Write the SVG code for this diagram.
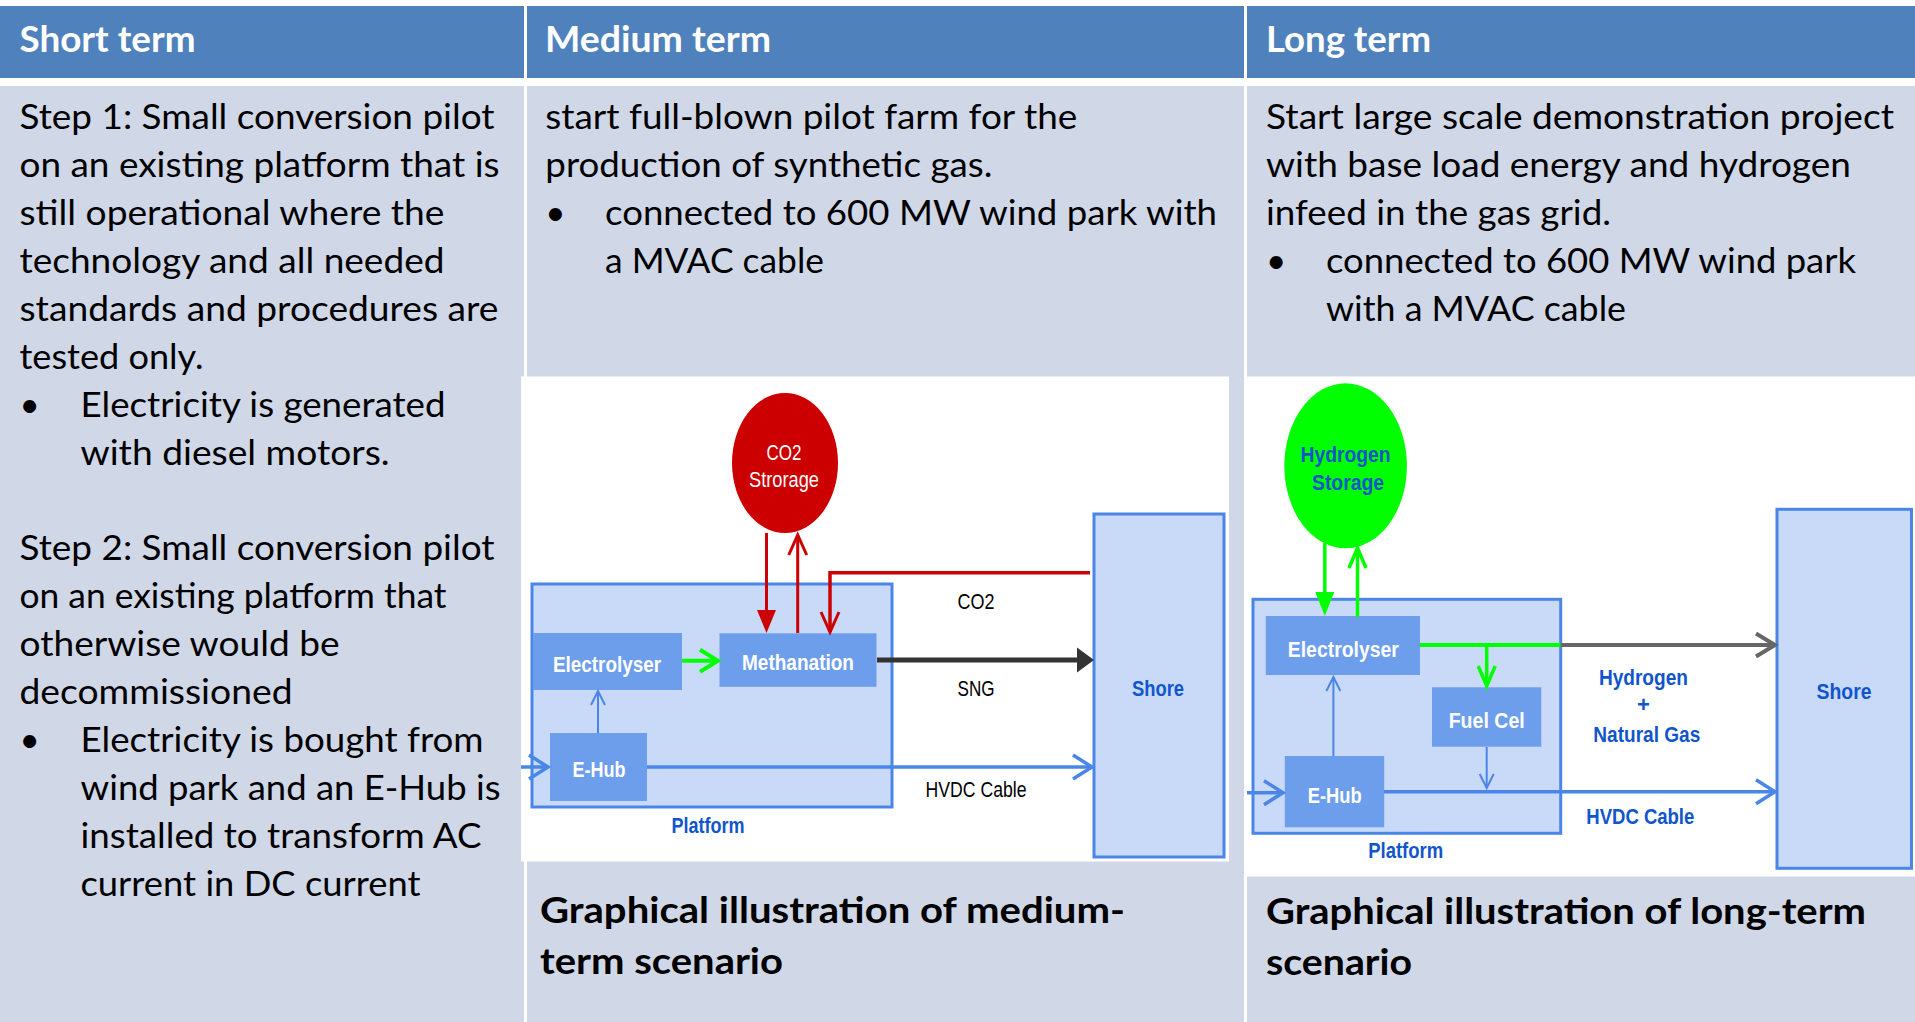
<svg xmlns="http://www.w3.org/2000/svg" width="1915" height="1022" viewBox="0 0 1915 1022">
<style>
.hdr{fill:#4F81BD}
.cell{fill:#D0D8E8}
.ht{font-family:Lato,"Liberation Sans",sans-serif;font-weight:bold;font-size:36px;fill:#FFFFFF}
.bt{font-family:Lato,"Liberation Sans",sans-serif;font-size:35px;fill:#000000}
.cap{font-family:Lato,"Liberation Sans",sans-serif;font-weight:bold;font-size:36px;fill:#000000}
.plat{fill:#C9DAF8;stroke:#4A86E8;stroke-width:3}
.box{fill:#6D9EEB}
.dw{font-family:"Liberation Sans",Arial,sans-serif;font-weight:bold;font-size:22px;fill:#FFFFFF;text-anchor:middle}
.db{font-family:"Liberation Sans",Arial,sans-serif;font-weight:bold;font-size:22px;fill:#1155CC;text-anchor:middle}
.dn{font-family:"Liberation Sans",Arial,sans-serif;font-size:22px;fill:#000000;text-anchor:middle}
.dwn{font-family:"Liberation Sans",Arial,sans-serif;font-size:22px;fill:#FFFFFF;text-anchor:middle}
.c{fill:none}
</style>
<defs>
<marker id="triRed" markerUnits="userSpaceOnUse" orient="auto" refX="0" refY="0" markerWidth="30" markerHeight="30" overflow="visible"><path d="M0,-9.5 L23,0 L0,9.5 Z" fill="#CC0000"/></marker>
<marker id="chevRed" markerUnits="userSpaceOnUse" orient="auto" refX="0" refY="0" markerWidth="30" markerHeight="30" overflow="visible"><path d="M-20,-9 L0,0 L-20,9" fill="none" stroke="#CC0000" stroke-width="3"/></marker>
<marker id="chevGreen" markerUnits="userSpaceOnUse" orient="auto" refX="0" refY="0" markerWidth="30" markerHeight="30" overflow="visible"><path d="M-18,-11 L0,0 L-18,11" fill="none" stroke="#00FF00" stroke-width="4"/></marker>
<marker id="chevGreenS" markerUnits="userSpaceOnUse" orient="auto" refX="0" refY="0" markerWidth="30" markerHeight="30" overflow="visible"><path d="M-20,-8.5 L0,0 L-20,8.5" fill="none" stroke="#00FF00" stroke-width="3.5"/></marker>
<marker id="triGreen" markerUnits="userSpaceOnUse" orient="auto" refX="0" refY="0" markerWidth="30" markerHeight="30" overflow="visible"><path d="M0,-9.5 L24,0 L0,9.5 Z" fill="#00FF00"/></marker>
<marker id="triDark" markerUnits="userSpaceOnUse" orient="auto" refX="0" refY="0" markerWidth="30" markerHeight="30" overflow="visible"><path d="M0,-12.5 L17,0 L0,12.5 Z" fill="#333333"/></marker>
<marker id="chevGray" markerUnits="userSpaceOnUse" orient="auto" refX="0" refY="0" markerWidth="30" markerHeight="30" overflow="visible"><path d="M-19,-11.5 L0,0 L-19,11.5" fill="none" stroke="#666666" stroke-width="4"/></marker>
<marker id="chevBlue" markerUnits="userSpaceOnUse" orient="auto" refX="0" refY="0" markerWidth="30" markerHeight="30" overflow="visible"><path d="M-19,-12 L0,0 L-19,12" fill="none" stroke="#4A86E8" stroke-width="3.5"/></marker>
<marker id="chevBlueS" markerUnits="userSpaceOnUse" orient="auto" refX="0" refY="0" markerWidth="30" markerHeight="30" overflow="visible"><path d="M-14,-7 L0,0 L-14,7" fill="none" stroke="#4A86E8" stroke-width="2"/></marker>
</defs>
<rect x="0" y="0" width="1915" height="1022" fill="#FFFFFF"/>

<g id="table">
<rect class="hdr" x="0" y="6" width="524" height="72"/>
<rect class="hdr" x="527" y="6" width="717" height="72"/>
<rect class="hdr" x="1247" y="6" width="668" height="72"/>
<rect class="cell" x="0" y="86" width="524" height="936"/>
<rect class="cell" x="527" y="86" width="717" height="936"/>
<rect class="cell" x="1247" y="86" width="668" height="936"/>
<text class="ht" x="19.5" y="52" textLength="176" lengthAdjust="spacingAndGlyphs">Short term</text>
<text class="ht" x="545" y="52" textLength="226" lengthAdjust="spacingAndGlyphs">Medium term</text>
<text class="ht" x="1266" y="52" textLength="165" lengthAdjust="spacingAndGlyphs">Long term</text>
</g>

<g id="short-term-text">
<text class="bt" x="19.5" y="129" textLength="475" lengthAdjust="spacingAndGlyphs">Step 1: Small conversion pilot</text>
<text class="bt" x="19.5" y="177" textLength="480" lengthAdjust="spacingAndGlyphs">on an existing platform that is</text>
<text class="bt" x="19.5" y="225" textLength="425" lengthAdjust="spacingAndGlyphs">still operational where the</text>
<text class="bt" x="19.5" y="273" textLength="425" lengthAdjust="spacingAndGlyphs">technology and all needed</text>
<text class="bt" x="19.5" y="321" textLength="479" lengthAdjust="spacingAndGlyphs">standards and procedures are</text>
<text class="bt" x="19.5" y="369" textLength="184" lengthAdjust="spacingAndGlyphs">tested only.</text>
<text class="bt" x="19.5" y="417">•</text>
<text class="bt" x="80.5" y="417" textLength="365" lengthAdjust="spacingAndGlyphs">Electricity is generated</text>
<text class="bt" x="80.5" y="465" textLength="309" lengthAdjust="spacingAndGlyphs">with diesel motors.</text>
<text class="bt" x="19.5" y="560" textLength="475" lengthAdjust="spacingAndGlyphs">Step 2: Small conversion pilot</text>
<text class="bt" x="19.5" y="608" textLength="427" lengthAdjust="spacingAndGlyphs">on an existing platform that</text>
<text class="bt" x="19.5" y="656" textLength="320" lengthAdjust="spacingAndGlyphs">otherwise would be</text>
<text class="bt" x="19.5" y="704" textLength="273" lengthAdjust="spacingAndGlyphs">decommissioned</text>
<text class="bt" x="19.5" y="752">•</text>
<text class="bt" x="80.5" y="752" textLength="403" lengthAdjust="spacingAndGlyphs">Electricity is bought from</text>
<text class="bt" x="80.5" y="800" textLength="420" lengthAdjust="spacingAndGlyphs">wind park and an E-Hub is</text>
<text class="bt" x="80.5" y="848" textLength="401" lengthAdjust="spacingAndGlyphs">installed to transform AC</text>
<text class="bt" x="80.5" y="896" textLength="340" lengthAdjust="spacingAndGlyphs">current in DC current</text>
</g>

<g id="medium-term-text">
<text class="bt" x="545.3" y="129" textLength="532" lengthAdjust="spacingAndGlyphs">start full-blown pilot farm for the</text>
<text class="bt" x="545.3" y="177" textLength="447" lengthAdjust="spacingAndGlyphs">production of synthetic gas.</text>
<text class="bt" x="545.3" y="225">•</text>
<text class="bt" x="605" y="225" textLength="612" lengthAdjust="spacingAndGlyphs">connected to 600 MW wind park with</text>
<text class="bt" x="605" y="273" textLength="219" lengthAdjust="spacingAndGlyphs">a MVAC cable</text>
<text class="cap" x="540" y="923" textLength="585" lengthAdjust="spacingAndGlyphs">Graphical illustration of medium-</text>
<text class="cap" x="540" y="974" textLength="243" lengthAdjust="spacingAndGlyphs">term scenario</text>
</g>

<g id="long-term-text">
<text class="bt" x="1266" y="129" textLength="628" lengthAdjust="spacingAndGlyphs">Start large scale demonstration project</text>
<text class="bt" x="1266" y="177" textLength="585" lengthAdjust="spacingAndGlyphs">with base load energy and hydrogen</text>
<text class="bt" x="1266" y="225" textLength="345" lengthAdjust="spacingAndGlyphs">infeed in the gas grid.</text>
<text class="bt" x="1266" y="273">•</text>
<text class="bt" x="1326" y="273" textLength="530" lengthAdjust="spacingAndGlyphs">connected to 600 MW wind park</text>
<text class="bt" x="1326" y="321" textLength="300" lengthAdjust="spacingAndGlyphs">with a MVAC cable</text>
<text class="cap" x="1266" y="924" textLength="600" lengthAdjust="spacingAndGlyphs">Graphical illustration of long-term</text>
<text class="cap" x="1266" y="975" textLength="146" lengthAdjust="spacingAndGlyphs">scenario</text>
</g>

<!-- Medium-term diagram -->
<rect x="521" y="376.5" width="708" height="485" fill="#FFFFFF"/>
<g id="m-platform">
<rect class="plat" x="532" y="584" width="360" height="223"/>
<text class="db" x="708" y="833" textLength="73" lengthAdjust="spacingAndGlyphs">Platform</text>
</g>
<g id="m-co2storage">
<ellipse cx="785" cy="463" rx="53" ry="70" fill="#CC0000"/>
<text class="dwn" x="784" y="460" textLength="35" lengthAdjust="spacingAndGlyphs">CO2</text>
<text class="dwn" x="784" y="487" textLength="70" lengthAdjust="spacingAndGlyphs">Strorage</text>
</g>
<g id="m-electrolyser">
<rect class="box" x="533" y="633" width="149" height="57"/>
<text class="dw" x="607" y="672" textLength="108" lengthAdjust="spacingAndGlyphs">Electrolyser</text>
</g>
<g id="m-methanation">
<rect class="box" x="719.5" y="633.3" width="157" height="53.5"/>
<text class="dw" x="798" y="670" textLength="112" lengthAdjust="spacingAndGlyphs">Methanation</text>
</g>
<g id="m-ehub">
<rect class="box" x="550" y="733" width="97" height="68"/>
<text class="dw" x="599" y="777" textLength="53" lengthAdjust="spacingAndGlyphs">E-Hub</text>
</g>
<g id="m-shore">
<rect class="plat" x="1094" y="514" width="130" height="343"/>
<text class="db" x="1158" y="696" textLength="52" lengthAdjust="spacingAndGlyphs">Shore</text>
</g>
<g id="m-labels">
<text class="dn" x="976" y="609" textLength="37" lengthAdjust="spacingAndGlyphs">CO2</text>
<text class="dn" x="976" y="696" textLength="37" lengthAdjust="spacingAndGlyphs">SNG</text>
<text class="dn" x="976" y="797" textLength="101" lengthAdjust="spacingAndGlyphs">HVDC Cable</text>
</g>

<!-- Long-term diagram -->
<rect x="1247" y="376.5" width="668" height="500" fill="#FFFFFF"/>
<g id="l-platform">
<rect class="plat" x="1253" y="599.3" width="307.7" height="234"/>
<text class="db" x="1405.7" y="858.3" textLength="75" lengthAdjust="spacingAndGlyphs">Platform</text>
</g>
<g id="l-h2storage">
<ellipse cx="1345.6" cy="465.8" rx="61.3" ry="82.5" fill="#00FF00"/>
<text class="db" x="1345.5" y="461.7" textLength="90" lengthAdjust="spacingAndGlyphs">Hydrogen</text>
<text class="db" x="1348" y="490" textLength="72" lengthAdjust="spacingAndGlyphs">Storage</text>
</g>
<g id="l-electrolyser">
<rect class="box" x="1265.8" y="616" width="154.2" height="59"/>
<text class="dw" x="1343.3" y="656.7" textLength="111" lengthAdjust="spacingAndGlyphs">Electrolyser</text>
</g>
<g id="l-fuelcel">
<rect class="box" x="1432" y="687.3" width="109.3" height="59.4"/>
<text class="dw" x="1486.7" y="728.3" textLength="76" lengthAdjust="spacingAndGlyphs">Fuel Cel</text>
</g>
<g id="l-ehub">
<rect class="box" x="1284.8" y="756" width="99.4" height="71.3"/>
<text class="dw" x="1334.7" y="802.7" textLength="54" lengthAdjust="spacingAndGlyphs">E-Hub</text>
</g>
<g id="l-shore">
<rect class="plat" x="1777" y="509.3" width="134.5" height="359"/>
<text class="db" x="1844" y="699.3" textLength="55" lengthAdjust="spacingAndGlyphs">Shore</text>
</g>
<g id="l-labels">
<text class="db" x="1643.4" y="685" textLength="89" lengthAdjust="spacingAndGlyphs">Hydrogen</text>
<text class="db" x="1643.4" y="711.7">+</text>
<text class="db" x="1646.8" y="741.7" textLength="107" lengthAdjust="spacingAndGlyphs">Natural Gas</text>
<text class="db" x="1640.3" y="824" textLength="108" lengthAdjust="spacingAndGlyphs">HVDC Cable</text>
</g>

<g id="connectors" class="c">
<!-- medium -->
<path d="M766.5,533 V610" stroke="#CC0000" stroke-width="3" marker-end="url(#triRed)"/>
<path d="M797.7,633 V535" stroke="#CC0000" stroke-width="3" marker-end="url(#chevRed)"/>
<path d="M1090,572.7 H830 V632" stroke="#CC0000" stroke-width="3.5" marker-end="url(#chevRed)"/>
<path d="M682,660.7 H718" stroke="#00FF00" stroke-width="4" marker-end="url(#chevGreen)"/>
<path d="M877,660 H1077" stroke="#333333" stroke-width="5" marker-end="url(#triDark)"/>
<path d="M598,733 V691" stroke="#4A86E8" stroke-width="2" marker-end="url(#chevBlueS)"/>
<path d="M647,767 H1092" stroke="#4A86E8" stroke-width="3.5" marker-end="url(#chevBlue)"/>
<path d="M521,767 H548" stroke="#4A86E8" stroke-width="3.5" marker-end="url(#chevBlue)"/>
<!-- long -->
<path d="M1324.8,543 V592" stroke="#00FF00" stroke-width="3.5" marker-end="url(#triGreen)"/>
<path d="M1357.5,617 V548" stroke="#00FF00" stroke-width="3.5" marker-end="url(#chevGreenS)"/>
<path d="M1420,645 H1560.7" stroke="#00FF00" stroke-width="4"/>
<path d="M1560.7,645 H1775" stroke="#666666" stroke-width="4" marker-end="url(#chevGray)"/>
<path d="M1486.7,645 V686" stroke="#00FF00" stroke-width="3.5" marker-end="url(#chevGreenS)"/>
<path d="M1486.7,747 V788" stroke="#4A86E8" stroke-width="2" marker-end="url(#chevBlueS)"/>
<path d="M1333.4,756 V677" stroke="#4A86E8" stroke-width="2" marker-end="url(#chevBlueS)"/>
<path d="M1384,791.7 H1775" stroke="#4A86E8" stroke-width="3.5" marker-end="url(#chevBlue)"/>
<path d="M1247,792.7 H1283" stroke="#4A86E8" stroke-width="3.5" marker-end="url(#chevBlue)"/>
</g>
</svg>
